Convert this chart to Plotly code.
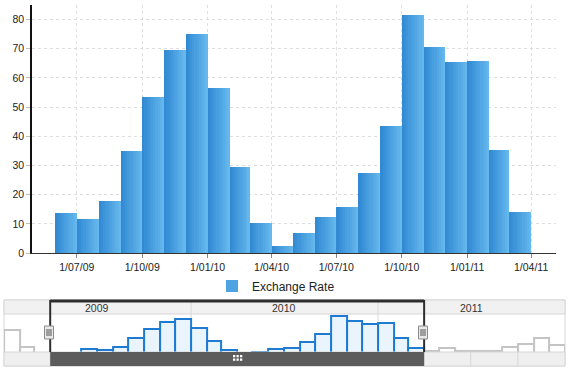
import plotly.graph_objects as go
import pandas as pd
import numpy as np

# ---------------- data ----------------
months = pd.date_range("2009-01-01", "2011-12-01", freq="MS")
values = [52, 16.5, None, None, None, 13.7, 11.8, 17.9, 34.9, 53.5, 69.7, 74.9,
          56.7, 29.5, 10.3, 2.4, 6.9, 12.4, 15.8, 27.5, 43.6, 81.5, 70.5, 65.6,
          65.9, 35.4, 14.1, 8.5, 14.3, 8.5, 8.5, 8.5, 16.4, 23.0, 36.0, 21.0]
series_name = "Exchange Rate"
window_start, window_end = "2009-04-01", "2011-04-01"
main_range = ["2009-04-29", "2011-05-06"]
nav_range = ["2009-01-01", "2012-01-01"]
y_ticks = list(range(0, 90, 10))
year_labels = ["2009", "2010", "2011"]
year_starts = ["2009-01-01", "2010-01-01", "2011-01-01"]

# ---------------- helpers ----------------
W, H = 571, 370
FONT = "Liberation Sans, Arial, sans-serif"


def px(x):
    return x / W


def py(y):
    return 1 - y / H


vals = pd.Series(values, index=months, dtype="float")
month_ms = ((months + pd.offsets.MonthBegin(1)) - months).days.values * 86400000.0
ws, we = pd.Timestamp(window_start), pd.Timestamp(window_end)
inside = (months >= ws) & (months < we)
has = vals.notna().values

fig = go.Figure()

# main chart: gradient-like bars built from overlapping layers
c0 = np.array([50, 138, 212])
c1 = np.array([100, 184, 236])
N = 10
m_main = inside & has
mx = [d.strftime("%Y-%m-%d") for d in months[m_main]]
my = vals.values[m_main]
mw = month_ms[m_main]
for i in range(N):
    f = i / N
    col = c0 + (c1 - c0) * (i / (N - 1))
    fig.add_trace(go.Bar(
        x=mx, y=my, width=mw * (1 - f), offset=mw * f,
        marker=dict(color="rgb(%d,%d,%d)" % tuple(col), line=dict(width=0)),
        name=series_name, showlegend=(i == N // 2),
        xaxis="x", yaxis="y", hoverinfo="skip",
    ))

# navigator bars
for mask, fill, edge in [(inside & has, "#e9f4fc", "#1f7bd2"),
                         (~inside & has, "#ffffff", "#c4c4c4")]:
    fig.add_trace(go.Bar(
        x=[d.strftime("%Y-%m-%d") for d in months[mask]], y=vals.values[mask],
        width=month_ms[mask], offset=0,
        marker=dict(color=fill, line=dict(color=edge, width=2)),
        showlegend=False, xaxis="x2", yaxis="y2", hoverinfo="skip",
    ))

shapes = []
# navigator frame and year band
shapes.append(dict(type="rect", xref="paper", yref="paper", x0=px(4), x1=px(565),
                   y0=py(366), y1=py(300), line=dict(color="#d6d6d6", width=1),
                   fillcolor="rgba(0,0,0,0)", layer="below"))
shapes.append(dict(type="rect", xref="paper", yref="paper", x0=px(4), x1=px(565),
                   y0=py(314), y1=py(300), line=dict(color="#d6d6d6", width=1),
                   fillcolor="#f1f1f1", layer="below"))
for ys in year_starts[1:]:
    shapes.append(dict(type="line", xref="x2", yref="paper", x0=ys, x1=ys,
                       y0=py(352), y1=py(300), line=dict(color="#d8d8d8", width=1),
                       layer="below"))
# bottom strip
shapes.append(dict(type="rect", xref="paper", yref="paper", x0=px(4), x1=px(565),
                   y0=py(366), y1=py(352), line=dict(color="#d6d6d6", width=1),
                   fillcolor="#efefef", layer="above"))
for q in pd.date_range("2009-04-01", "2011-10-01", freq="QS"):
    shapes.append(dict(type="line", xref="x2", yref="paper", x0=q, x1=q,
                       y0=py(366), y1=py(352), line=dict(color="#d6d6d6", width=1),
                       layer="above"))
shapes.append(dict(type="rect", xref="x2", yref="paper", x0=window_start, x1=window_end,
                   y0=py(366), y1=py(352), line=dict(width=0),
                   fillcolor="#5c5c5c", layer="above"))
# window frame
shapes.append(dict(type="line", xref="x2", yref="paper", x0=window_start, x1=window_end,
                   y0=py(301), y1=py(301), line=dict(color="#2e2e2e", width=3), layer="above"))
for xe in (window_start, window_end):
    shapes.append(dict(type="line", xref="x2", yref="paper", x0=xe, x1=xe,
                       y0=py(352), y1=py(300), line=dict(color="#2e2e2e", width=2),
                       layer="above"))
# grip in the middle of the dark strip
gx, gy = 233, 355
for r in range(2):
    for c in range(3):
        shapes.append(dict(type="rect", xref="paper", yref="paper",
                           x0=px(gx + c * 3.5), x1=px(gx + c * 3.5 + 2.3),
                           y0=py(gy + r * 3.5 + 2.3), y1=py(gy + r * 3.5),
                           line=dict(width=0), fillcolor="#ffffff", layer="above"))
# handles
for hx in (49, 423):
    shapes.append(dict(type="rect", xref="paper", yref="paper",
                       x0=px(hx - 4.5), x1=px(hx + 4.5), y0=py(339), y1=py(326),
                       line=dict(color="#8c8c8c", width=1), fillcolor="#e8e8e8",
                       layer="above"))
    for k in (-2, 0, 2):
        shapes.append(dict(type="line", xref="paper", yref="paper",
                           x0=px(hx + k), x1=px(hx + k), y0=py(336), y1=py(329),
                           line=dict(color="#555555", width=1), layer="above"))

annotations = []
for lbl, ys in zip(year_labels, year_starts):
    mid = pd.Timestamp(ys) + pd.Timedelta(days=182)
    annotations.append(dict(text=lbl, x=mid, xref="x2", y=py(307.5), yref="paper",
                            showarrow=False, font=dict(family=FONT, size=10.5, color="#333333"),
                            xanchor="center", yanchor="middle"))

fig.update_layout(
    width=W, height=H,
    margin=dict(l=0, r=0, t=0, b=0),
    paper_bgcolor="white", plot_bgcolor="white",
    barmode="overlay", bargap=0,
    hovermode=False,
    font=dict(family=FONT, size=10.5, color="#222222"),
    xaxis=dict(domain=[px(32), px(556)], range=main_range, type="date",
               tick0="2009-07-01", dtick="M3", tickformat="%-d/%m/%y",
               showgrid=True, gridcolor="#dedede", griddash="dot",
               showline=True, linecolor="#333333", linewidth=1,
               ticks="outside", ticklen=4, tickcolor="#888888",
               tickfont=dict(family=FONT, size=10.5, color="#222222"),
               zeroline=False, automargin=False, anchor="y"),
    yaxis=dict(domain=[py(253), py(5)], range=[0, 85], tickvals=y_ticks,
               showgrid=True, gridcolor="#dedede", griddash="dot",
               showline=True, linecolor="#111111", linewidth=1.5,
               ticks="outside", ticklen=4, tickcolor="#bbbbbb",
               tickfont=dict(family=FONT, size=10.5, color="#222222"),
               zeroline=False, automargin=False, anchor="x"),
    xaxis2=dict(domain=[px(4.1), px(565)], range=nav_range, type="date",
                visible=False, anchor="y2"),
    yaxis2=dict(domain=[py(366), py(314)], range=[-22.4, 85.4],
                visible=False, anchor="x2"),
    showlegend=True,
    legend=dict(orientation="h", x=px(212), y=py(286), xanchor="left", yanchor="middle",
                font=dict(family=FONT, size=12, color="#222222"),
                bgcolor="rgba(0,0,0,0)", borderwidth=0),
    shapes=shapes,
    annotations=annotations,
)

fig.write_html("out.html", config={"displayModeBar": False},
               post_script="document.body.style.margin='0';document.body.style.overflow='hidden';")
